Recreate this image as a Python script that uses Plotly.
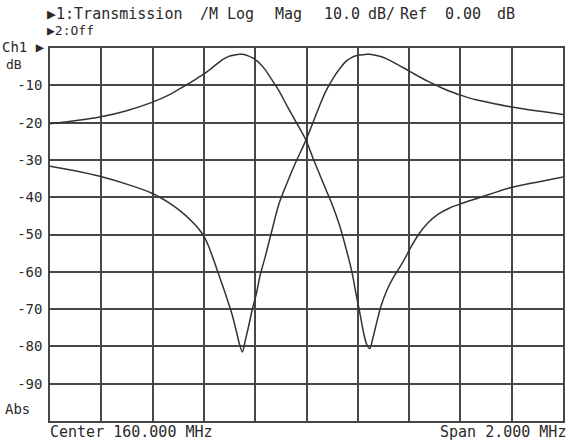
import plotly.graph_objects as go

# Frequency points (MHz), shared by both traces
freq_mhz = [159.000, 159.097, 159.194, 159.299, 159.400, 159.466, 159.524, 159.563,
            159.583, 159.602, 159.621, 159.641, 159.652, 159.676, 159.695, 159.711,
            159.726, 159.738, 159.750, 159.761, 159.773, 159.788, 159.804, 159.819,
            159.839, 159.862, 159.893, 159.924, 159.959, 159.998, 160.025, 160.049,
            160.076, 160.103, 160.130, 160.157, 160.177, 160.192, 160.208, 160.223,
            160.235, 160.247, 160.258, 160.274, 160.289, 160.313, 160.336, 160.359,
            160.383, 160.406, 160.437, 160.472, 160.515, 160.558, 160.604, 160.662,
            160.728, 160.798, 160.903, 161.000]

# Trace A: passband peak low, notch high
trace_a_db = [-20.3, -19.5, -18.5, -16.8, -14.5, -12.5, -10.2, -8.6,
              -7.7, -6.9, -5.9, -4.8, -4.2, -3.0, -2.3, -2.0,
              -1.8, -1.7, -1.7, -1.8, -2.1, -2.6, -3.3, -4.2,
              -5.8, -8.2, -11.5, -15.5, -19.8, -24.7, -29.5, -33.5,
              -38.0, -42.5, -47.8, -54.5, -60.0, -65.5, -71.0, -76.5,
              -79.5, -80.6, -78.0, -73.5, -69.5, -65.0, -61.8, -59.3,
              -56.5, -53.5, -50.0, -47.0, -44.5, -42.9, -41.7, -40.4,
              -38.9, -37.4, -35.9, -34.6]

# Trace B: notch low, passband peak high
trace_b_db = [-31.7, -32.9, -34.4, -36.5, -39.0, -41.6, -44.6, -47.2,
              -48.8, -50.7, -53.6, -57.4, -59.6, -64.3, -68.2, -71.7,
              -75.8, -79.2, -81.5, -78.5, -75.0, -70.3, -66.0, -61.0,
              -56.0, -49.8, -41.7, -36.2, -30.5, -24.7, -20.0, -15.8,
              -11.5, -8.2, -5.5, -3.4, -2.5, -2.1, -1.9, -1.8,
              -1.7, -1.7, -1.8, -2.0, -2.3, -2.9, -3.7, -4.6,
              -5.5, -6.4, -7.6, -8.9, -10.3, -11.6, -12.7, -13.9,
              -14.9, -15.8, -16.9, -17.8]

y_tick_vals = [-10, -20, -30, -40, -50, -60, -70, -80, -90]
y_tick_text = ["-10", "-20", "-30", "-40", "-50", "-60", "-70", "-80", "-90"]
x_grid_vals = [159.0, 159.2, 159.4, 159.6, 159.8, 160.0, 160.2, 160.4, 160.6, 160.8, 161.0]

MONO = "DejaVu Sans Mono"
INK = "#2a2a2a"
GRID = "#474747"

fig = go.Figure()
for ys in (trace_a_db, trace_b_db):
    fig.add_trace(go.Scatter(x=freq_mhz, y=ys, mode="lines",
                             line=dict(color="#333333", width=1.5, shape="spline", smoothing=0.8),
                             hoverinfo="skip", showlegend=False))

fig.update_layout(
    width=570, height=441,
    margin=dict(l=50, r=5, t=48, b=20),
    paper_bgcolor="white", plot_bgcolor="white",
    font=dict(family=MONO, size=14, color=INK),
    xaxis=dict(range=[159, 161], tickvals=x_grid_vals, showticklabels=False,
               showgrid=True, gridcolor=GRID, gridwidth=1.5, zeroline=False,
               showline=True, linecolor=GRID, linewidth=1.5, mirror=True, ticks=""),
    yaxis=dict(range=[-100, 0], tickvals=y_tick_vals, ticktext=y_tick_text,
               showgrid=True, gridcolor=GRID, gridwidth=1.5, zeroline=False,
               showline=True, linecolor=GRID, linewidth=1.5, mirror=True, ticks="",
               ticklabelstandoff=3,
               tickfont=dict(family=MONO, size=14, color=INK)),
)

def px_text(text, px, py, anchor="left", size=14):
    fig.add_annotation(text=text, xref="paper", yref="paper",
                       x=(px - 50) / 515, y=(421 - py) / 373,
                       xanchor=anchor, yanchor="middle", showarrow=False,
                       borderpad=0,
                       font=dict(family=MONO, size=size, color=INK))

px_text("\u25B61:Transmission", 46, 14, size=15)
px_text("/M", 200, 14, size=15)
px_text("Log", 227, 14, size=15)
px_text("Mag", 275, 14, size=15)
px_text("10.0", 324, 14, size=15)
px_text("dB/", 368, 14, size=15)
px_text("Ref", 400, 14, size=15)
px_text("0.00", 446, 14, size=15)
px_text("dB", 498, 14, size=15)
px_text("\u25B62:Off", 46, 31, size=13)
px_text("Ch1 \u25B6", 1, 47, size=14)
px_text("dB", 5, 64, size=13)
px_text("Abs", 4, 409)
px_text("Center 160.000 MHz", 49, 432, size=15)
px_text("Span 2.000 MHz", 569, 432, anchor="right", size=15)

fig.write_html("out.html",
               config={"displayModeBar": False},
               post_script="document.body.style.margin='0';document.body.style.overflow='hidden';")
